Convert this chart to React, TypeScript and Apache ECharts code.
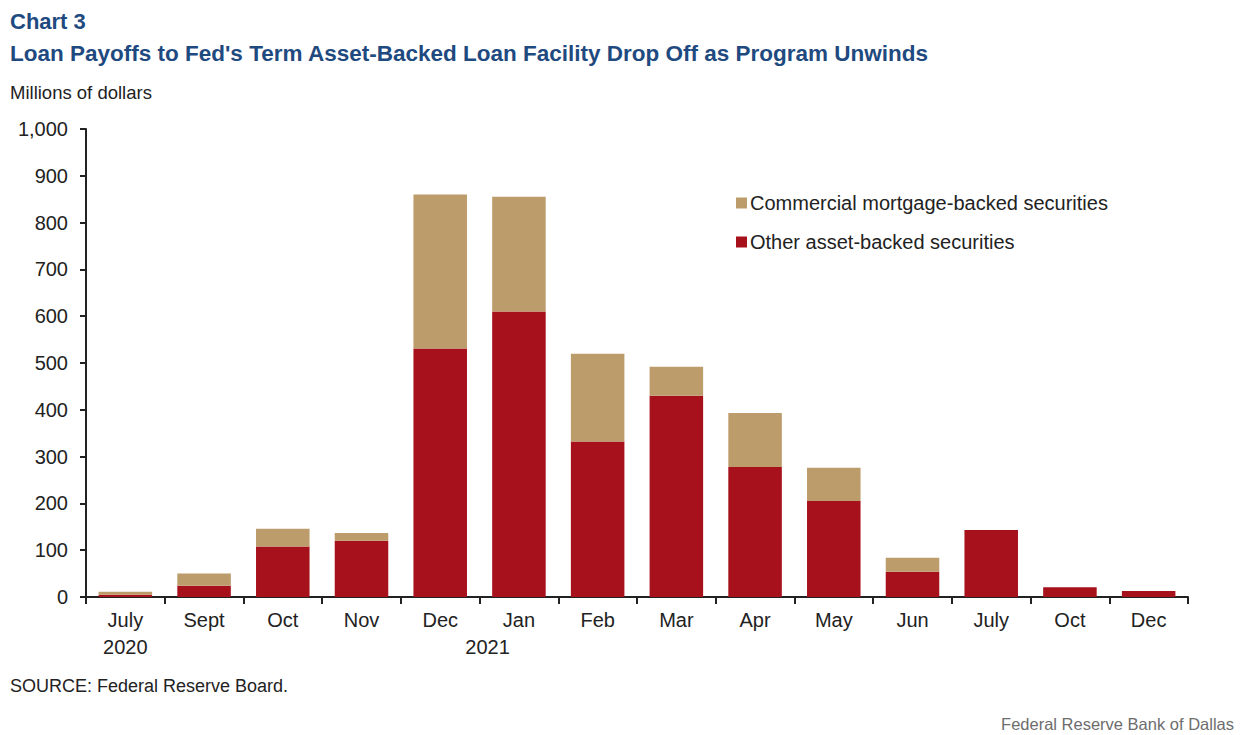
import React, { useEffect, useRef } from "react";
import * as echarts from "echarts";

const categories = ["July", "Sept", "Oct", "Nov", "Dec", "Jan", "Feb", "Mar", "Apr", "May", "Jun", "July", "Oct", "Dec"];
const otherABS = [5, 24, 108, 120, 531, 610, 332, 430, 278, 205, 54, 143, 21, 13];
const cmbs = [6, 26, 38, 17, 329, 245, 188, 62, 115, 71, 30, 0, 0, 0];
const yTicks = [0, 100, 200, 300, 400, 500, 600, 700, 800, 900, 1000];

const RED = "#A6111C";
const TAN = "#BD9C6B";
const FONT = "'Liberation Sans', Arial, sans-serif";

export default function App() {
  const ref = useRef<HTMLDivElement>(null);
  useEffect(() => {
    if (!ref.current) return;
    const chart = echarts.init(ref.current, null, { renderer: "svg" });
    chart.setOption({
      animation: false,
      textStyle: { fontFamily: FONT },
      grid: { left: 86, right: 58, top: 129, bottom: 138, containLabel: false },
      title: [
        { text: "Chart 3", left: 5, top: 5, textStyle: { color: "#1F4A80", fontSize: 22, fontWeight: "bold", fontFamily: FONT } },
        { text: "Loan Payoffs to Fed's Term Asset-Backed Loan Facility Drop Off as Program Unwinds", left: 5, top: 37, textStyle: { color: "#1F4A80", fontSize: 22.5, fontWeight: "bold", fontFamily: FONT } },
        { text: "Millions of dollars", left: 5, top: 78, textStyle: { color: "#222", fontSize: 18.5, fontWeight: "normal", fontFamily: FONT } },
        { text: "SOURCE: Federal Reserve Board.", left: 5, top: 672, textStyle: { color: "#222", fontSize: 18, fontWeight: "normal", fontFamily: FONT } },
        { text: "Federal Reserve Bank of Dallas", right: 7, top: 710, textStyle: { color: "#6d6d6d", fontSize: 16.5, fontWeight: "normal", fontFamily: FONT } },
      ],
      legend: {
        orient: "vertical",
        left: 731,
        top: 188,
        itemWidth: 11,
        itemHeight: 11,
        itemGap: 19,
        icon: "rect",
        data: ["Commercial mortgage-backed securities", "Other asset-backed securities"],
        textStyle: { color: "#222", fontSize: 20, fontFamily: FONT, padding: [0, 0, 0, -2] },
      },
      xAxis: {
        type: "category",
        data: categories,
        axisLine: { lineStyle: { color: "#222", width: 2 } },
        axisTick: { show: true, length: 7, alignWithLabel: false, lineStyle: { color: "#222", width: 2 } },
        axisLabel: { color: "#222", fontSize: 20, margin: 13, fontFamily: FONT, interval: 0 },
      },
      yAxis: {
        type: "value",
        min: 0,
        max: 1000,
        interval: 100,
        splitLine: { show: false },
        axisLine: { show: true, lineStyle: { color: "#222", width: 2 } },
        axisTick: { show: true, length: 6, inside: false, lineStyle: { color: "#222", width: 2 } },
        axisLabel: {
          color: "#222",
          fontSize: 20,
          margin: 18,
          fontFamily: FONT,
          formatter: (v: number) => (yTicks.includes(v) ? v.toLocaleString("en-US") : ""),
        },
      },
      series: [
        {
          name: "Other asset-backed securities",
          type: "bar",
          stack: "total",
          data: otherABS,
          barWidth: "68%",
          itemStyle: { color: RED },
        },
        {
          name: "Commercial mortgage-backed securities",
          type: "bar",
          stack: "total",
          data: cmbs,
          barWidth: "68%",
          itemStyle: { color: TAN },
        },
      ],
    });
    const p2020 = chart.convertToPixel({ xAxisIndex: 0 }, 0) as number;
    const pDec = chart.convertToPixel({ xAxisIndex: 0 }, 4) as number;
    const pJan = chart.convertToPixel({ xAxisIndex: 0 }, 5) as number;
    chart.setOption({
      graphic: [
        { type: "text", x: p2020, y: 637, style: { text: "2020", fill: "#222", font: `20px ${FONT}`, textAlign: "center" } },
        { type: "text", x: (pDec + pJan) / 2 + 8, y: 637, style: { text: "2021", fill: "#222", font: `20px ${FONT}`, textAlign: "center" } },
      ],
    });
    return () => chart.dispose();
  }, []);
  return <div ref={ref} style={{ width: 1246, height: 735, position: "absolute", left: 0, top: 0 }} />;
}
